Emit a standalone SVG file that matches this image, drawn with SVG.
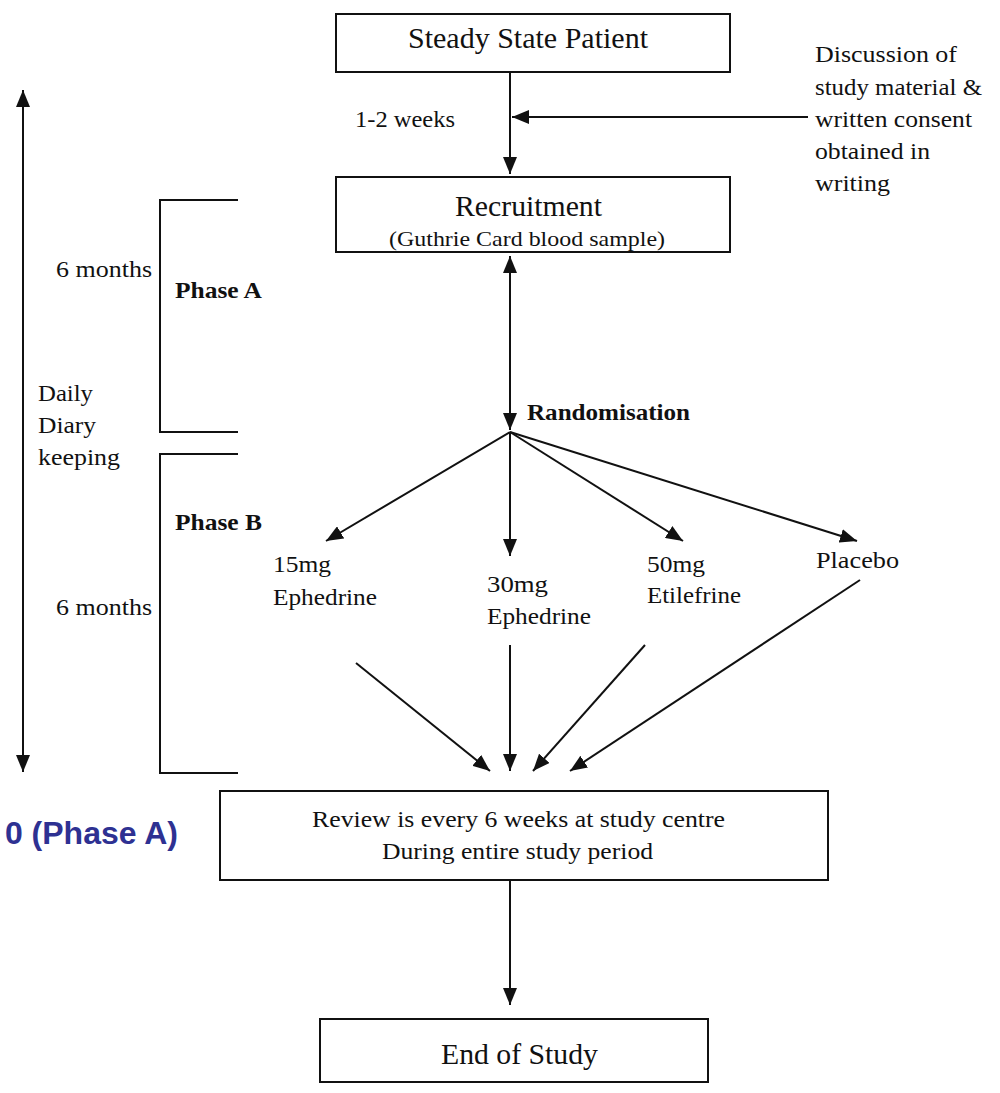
<svg xmlns="http://www.w3.org/2000/svg" width="1000" height="1093" viewBox="0 0 1000 1093">
<style>
.box{fill:#fff;stroke:#111;stroke-width:2}
.t{font-family:"Liberation Serif","Times New Roman",serif;fill:#111;font-size:24px}
.big{font-size:30px}
.sm{font-size:22px}
.b{font-weight:bold}
.ln{stroke:#111;stroke-width:2;fill:none}
.blue{font-family:"Liberation Sans",Arial,sans-serif;font-weight:bold;font-size:32px;fill:#2e3192}
</style>
<defs>
<marker id="ah" markerUnits="userSpaceOnUse" markerWidth="17" markerHeight="14" refX="17" refY="7" orient="auto-start-reverse">
<path d="M0,0 L17,7 L0,14 Z" fill="#111"/>
</marker>
</defs>
<rect width="1000" height="1093" fill="#fff"/>
<g id="connectors">
<line class="ln" x1="510" y1="72" x2="510" y2="174" marker-end="url(#ah)"/>
<line class="ln" x1="808" y1="117" x2="512" y2="117" marker-end="url(#ah)"/>
<line class="ln" x1="510" y1="256" x2="510" y2="430" marker-start="url(#ah)" marker-end="url(#ah)"/>
<line class="ln" x1="510" y1="432" x2="326" y2="541" marker-end="url(#ah)"/>
<line class="ln" x1="510" y1="432" x2="510" y2="556" marker-end="url(#ah)"/>
<line class="ln" x1="510" y1="432" x2="683" y2="541" marker-end="url(#ah)"/>
<line class="ln" x1="510" y1="432" x2="857" y2="541" marker-end="url(#ah)"/>
<line class="ln" x1="356" y1="663" x2="490" y2="771" marker-end="url(#ah)"/>
<line class="ln" x1="510" y1="645" x2="510" y2="771" marker-end="url(#ah)"/>
<line class="ln" x1="645" y1="645" x2="533" y2="771" marker-end="url(#ah)"/>
<line class="ln" x1="860" y1="580" x2="570" y2="771" marker-end="url(#ah)"/>
<line class="ln" x1="510" y1="880" x2="510" y2="1005" marker-end="url(#ah)"/>
<line class="ln" x1="23" y1="90" x2="23" y2="772" marker-start="url(#ah)" marker-end="url(#ah)"/>
<path class="ln" d="M238,200 H160 V432 H238"/>
<path class="ln" d="M238,454 H160 V773 H238"/>
</g>
<g id="steady">
<rect class="box" x="336" y="14" width="394" height="58"/>
<text class="t big" x="408" y="48" textLength="240" lengthAdjust="spacingAndGlyphs">Steady State Patient</text>
</g>
<g id="consent">
<text class="t" x="815" y="62" textLength="142" lengthAdjust="spacingAndGlyphs">Discussion of</text>
<text class="t" x="815" y="95" textLength="167" lengthAdjust="spacingAndGlyphs">study material &amp;</text>
<text class="t" x="815" y="127" textLength="157" lengthAdjust="spacingAndGlyphs">written consent</text>
<text class="t" x="815" y="159" textLength="115" lengthAdjust="spacingAndGlyphs">obtained in</text>
<text class="t" x="815" y="191" textLength="75" lengthAdjust="spacingAndGlyphs">writing</text>
</g>
<g id="weeks"><text class="t" x="355" y="127" textLength="100" lengthAdjust="spacingAndGlyphs">1-2 weeks</text></g>
<g id="recruitment">
<rect class="box" x="336" y="177" width="394" height="75"/>
<text class="t big" x="455" y="216" textLength="147" lengthAdjust="spacingAndGlyphs">Recruitment</text>
<text class="t sm" x="389" y="246" textLength="276" lengthAdjust="spacingAndGlyphs">(Guthrie Card blood sample)</text>
</g>
<g id="sidelabels">
<text class="t" x="56" y="277" textLength="96" lengthAdjust="spacingAndGlyphs">6 months</text>
<text class="t b" x="175" y="298" textLength="87" lengthAdjust="spacingAndGlyphs">Phase A</text>
<text class="t" x="38" y="401" textLength="55" lengthAdjust="spacingAndGlyphs">Daily</text>
<text class="t" x="38" y="433" textLength="58" lengthAdjust="spacingAndGlyphs">Diary</text>
<text class="t" x="38" y="465" textLength="82" lengthAdjust="spacingAndGlyphs">keeping</text>
<text class="t b" x="175" y="530" textLength="87" lengthAdjust="spacingAndGlyphs">Phase B</text>
<text class="t" x="56" y="615" textLength="96" lengthAdjust="spacingAndGlyphs">6 months</text>
<text class="blue" x="178" y="844" text-anchor="end">0 (Phase A)</text>
</g>
<g id="randomisation"><text class="t b" x="527" y="420" textLength="163" lengthAdjust="spacingAndGlyphs">Randomisation</text></g>
<g id="arm15">
<text class="t" x="273" y="572" textLength="58" lengthAdjust="spacingAndGlyphs">15mg</text>
<text class="t" x="273" y="605" textLength="104" lengthAdjust="spacingAndGlyphs">Ephedrine</text>
</g>
<g id="arm30">
<text class="t" x="487" y="592" textLength="61" lengthAdjust="spacingAndGlyphs">30mg</text>
<text class="t" x="487" y="624" textLength="104" lengthAdjust="spacingAndGlyphs">Ephedrine</text>
</g>
<g id="arm50">
<text class="t" x="647" y="572" textLength="58" lengthAdjust="spacingAndGlyphs">50mg</text>
<text class="t" x="647" y="603" textLength="94" lengthAdjust="spacingAndGlyphs">Etilefrine</text>
</g>
<g id="placebo"><text class="t" x="816" y="568" textLength="83" lengthAdjust="spacingAndGlyphs">Placebo</text></g>
<g id="review">
<rect class="box" x="220" y="791" width="608" height="89"/>
<text class="t" x="312" y="827" textLength="413" lengthAdjust="spacingAndGlyphs">Review is every 6 weeks at study centre</text>
<text class="t" x="382" y="859" textLength="271" lengthAdjust="spacingAndGlyphs">During entire study period</text>
</g>
<g id="end">
<rect class="box" x="320" y="1019" width="388" height="63"/>
<text class="t big" x="441" y="1064" textLength="157" lengthAdjust="spacingAndGlyphs">End of Study</text>
</g>
</svg>
